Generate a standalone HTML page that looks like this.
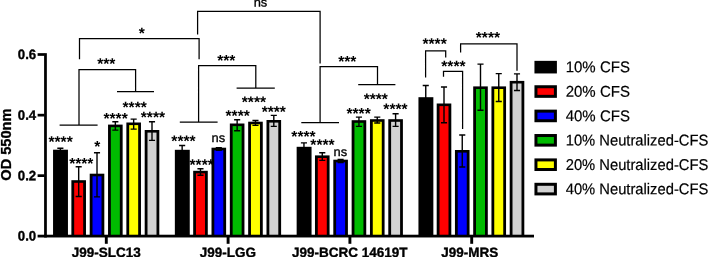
<!DOCTYPE html>
<html><head><meta charset="utf-8"><title>chart</title>
<style>html,body{margin:0;padding:0;background:#fff;}svg{display:block;will-change:transform;font-family:"Liberation Sans",sans-serif;}</style>
</head><body>
<svg width="708" height="257" viewBox="0 0 708 257">
<rect x="0" y="0" width="708" height="257" fill="#ffffff"/>
<text x="201.70" y="169.90" transform="rotate(0.03 201.7 169.9)" font-weight="bold" font-size="15.6" text-anchor="middle">****</text>
<g>
<rect x="53.05" y="149.70" width="14.90" height="86.40" fill="#000"/>
<rect x="71.38" y="180.20" width="14.60" height="55.90" fill="#000"/>
<rect x="74.18" y="182.80" width="9.00" height="53.30" fill="#ff0000"/>
<rect x="89.71" y="173.70" width="14.60" height="62.40" fill="#000"/>
<rect x="92.51" y="176.30" width="9.00" height="59.80" fill="#0000ff"/>
<rect x="108.04" y="124.60" width="14.60" height="111.50" fill="#000"/>
<rect x="110.84" y="127.20" width="9.00" height="108.90" fill="#00bb00"/>
<rect x="126.37" y="122.50" width="14.60" height="113.60" fill="#000"/>
<rect x="129.17" y="125.10" width="9.00" height="111.00" fill="#ffff00"/>
<rect x="144.70" y="130.00" width="14.60" height="106.10" fill="#000"/>
<rect x="147.50" y="132.60" width="9.00" height="103.50" fill="#d2d2d2"/>
<rect x="174.85" y="149.80" width="14.90" height="86.30" fill="#000"/>
<rect x="193.18" y="170.80" width="14.60" height="65.30" fill="#000"/>
<rect x="195.98" y="173.40" width="9.00" height="62.70" fill="#ff0000"/>
<rect x="211.51" y="147.70" width="14.60" height="88.40" fill="#000"/>
<rect x="214.31" y="150.30" width="9.00" height="85.80" fill="#0000ff"/>
<rect x="229.84" y="123.50" width="14.60" height="112.60" fill="#000"/>
<rect x="232.64" y="126.10" width="9.00" height="110.00" fill="#00bb00"/>
<rect x="248.17" y="121.70" width="14.60" height="114.40" fill="#000"/>
<rect x="250.97" y="124.30" width="9.00" height="111.80" fill="#ffff00"/>
<rect x="266.50" y="120.00" width="14.60" height="116.10" fill="#000"/>
<rect x="269.30" y="122.60" width="9.00" height="113.50" fill="#d2d2d2"/>
<rect x="296.65" y="146.80" width="14.90" height="89.30" fill="#000"/>
<rect x="314.98" y="155.40" width="14.60" height="80.70" fill="#000"/>
<rect x="317.78" y="158.00" width="9.00" height="78.10" fill="#ff0000"/>
<rect x="333.31" y="159.70" width="14.60" height="76.40" fill="#000"/>
<rect x="336.11" y="162.30" width="9.00" height="73.80" fill="#0000ff"/>
<rect x="351.64" y="120.20" width="14.60" height="115.90" fill="#000"/>
<rect x="354.44" y="122.80" width="9.00" height="113.30" fill="#00bb00"/>
<rect x="369.97" y="119.20" width="14.60" height="116.90" fill="#000"/>
<rect x="372.77" y="121.80" width="9.00" height="114.30" fill="#ffff00"/>
<rect x="388.30" y="119.20" width="14.60" height="116.90" fill="#000"/>
<rect x="391.10" y="121.80" width="9.00" height="114.30" fill="#d2d2d2"/>
<rect x="418.45" y="97.20" width="14.90" height="138.90" fill="#000"/>
<rect x="436.70" y="103.50" width="14.60" height="132.60" fill="#000"/>
<rect x="439.50" y="106.10" width="9.00" height="130.00" fill="#ff0000"/>
<rect x="454.95" y="150.00" width="14.60" height="86.10" fill="#000"/>
<rect x="457.75" y="152.60" width="9.00" height="83.50" fill="#0000ff"/>
<rect x="473.20" y="86.40" width="14.60" height="149.70" fill="#000"/>
<rect x="476.00" y="89.00" width="9.00" height="147.10" fill="#00bb00"/>
<rect x="491.45" y="86.40" width="14.60" height="149.70" fill="#000"/>
<rect x="494.25" y="89.00" width="9.00" height="147.10" fill="#ffff00"/>
<rect x="509.70" y="80.90" width="14.60" height="155.20" fill="#000"/>
<rect x="512.50" y="83.50" width="9.00" height="152.60" fill="#d2d2d2"/>
</g>
<g stroke="#000" stroke-width="1.4" fill="none">
<path d="M60.35 148.30V151.00 M57.30 148.30H63.40"/>
<path d="M78.68 166.70V196.50 M75.63 166.70H81.73 M75.63 196.50H81.73"/>
<path d="M97.01 152.70V196.90 M93.96 152.70H100.06 M93.96 196.90H100.06"/>
<path d="M115.34 121.70V130.10 M112.29 121.70H118.39 M112.29 130.10H118.39"/>
<path d="M133.67 119.10V129.10 M130.62 119.10H136.72 M130.62 129.10H136.72"/>
<path d="M152.00 121.70V140.40 M148.95 121.70H155.05 M148.95 140.40H155.05"/>
<path d="M182.15 145.50V151.10 M179.10 145.50H185.20"/>
<path d="M200.48 168.80V175.30 M197.43 168.80H203.53 M197.43 175.30H203.53"/>
<path d="M218.81 147.70V150.30 M215.76 147.70H221.86 M215.76 150.30H221.86"/>
<path d="M237.14 119.70V130.70 M234.09 119.70H240.19 M234.09 130.70H240.19"/>
<path d="M255.47 120.50V125.40 M252.42 120.50H258.52 M252.42 125.40H258.52"/>
<path d="M273.80 115.40V126.40 M270.75 115.40H276.85 M270.75 126.40H276.85"/>
<path d="M303.95 142.90V148.10 M300.90 142.90H307.00"/>
<path d="M322.28 152.80V160.40 M319.23 152.80H325.33 M319.23 160.40H325.33"/>
<path d="M340.61 159.50V162.50 M337.56 159.50H343.66 M337.56 162.50H343.66"/>
<path d="M358.94 117.10V126.40 M355.89 117.10H361.99 M355.89 126.40H361.99"/>
<path d="M377.27 117.10V123.00 M374.22 117.10H380.32 M374.22 123.00H380.32"/>
<path d="M395.60 113.70V126.40 M392.55 113.70H398.65 M392.55 126.40H398.65"/>
<path d="M425.75 85.50V98.50 M422.70 85.50H428.80"/>
<path d="M444.00 87.00V122.80 M440.95 87.00H447.05 M440.95 122.80H447.05"/>
<path d="M462.25 135.00V166.95 M459.20 135.00H465.30 M459.20 166.95H465.30"/>
<path d="M480.50 64.10V110.30 M477.45 64.10H483.55 M477.45 110.30H483.55"/>
<path d="M498.75 73.60V101.50 M495.70 73.60H501.80 M495.70 101.50H501.80"/>
<path d="M517.00 73.90V90.50 M513.95 73.90H520.05 M513.95 90.50H520.05"/>
</g>
<g fill="#000">
<rect x="44.1" y="53.15" width="2.75" height="184.35"/>
<rect x="37.6" y="234.72" width="496.40" height="2.75"/>
<rect x="37.6" y="53.15" width="7" height="2.7"/>
<rect x="37.6" y="113.80" width="7" height="2.7"/>
<rect x="37.6" y="174.30" width="7" height="2.7"/>
<rect x="104.85" y="237" width="2.9" height="6.8"/>
<rect x="226.65" y="237" width="2.9" height="6.8"/>
<rect x="348.45" y="237" width="2.9" height="6.8"/>
<rect x="470.25" y="237" width="2.9" height="6.8"/>
</g>
<g font-weight="bold" font-size="13.6" fill="#000" stroke="#000" stroke-width="0.35" text-anchor="end">
<text x="36.20" y="59.00" transform="rotate(0.03 36.20 59.00)" textLength="18.4" lengthAdjust="spacingAndGlyphs">0.6</text>
<text x="36.20" y="119.65" transform="rotate(0.03 36.20 119.65)" textLength="18.4" lengthAdjust="spacingAndGlyphs">0.4</text>
<text x="36.20" y="180.15" transform="rotate(0.03 36.20 180.15)" textLength="18.4" lengthAdjust="spacingAndGlyphs">0.2</text>
<text x="36.20" y="240.60" transform="rotate(0.03 36.20 240.60)" textLength="18.4" lengthAdjust="spacingAndGlyphs">0.0</text>
</g>
<g font-weight="bold" font-size="13.5" fill="#000" stroke="#000" stroke-width="0.35" text-anchor="middle">
<text x="106.15" y="257.00" transform="rotate(0.03 106.15 257.00)">J99-SLC13</text>
<text x="227.95" y="257.00" transform="rotate(0.03 227.95 257.00)">J99-LGG</text>
<text x="349.75" y="257.00" transform="rotate(0.03 349.75 257.00)">J99-BCRC 14619T</text>
<text x="469.75" y="257.00" transform="rotate(0.03 469.75 257.00)">J99-MRS</text>
</g>
<text transform="translate(10.9 144.6) rotate(-90)" font-weight="bold" font-size="14.6" text-anchor="middle" fill="#000" stroke="#000" stroke-width="0.3">OD 550nm</text>
<path d="M59.6 125H97.6 M79 125V69.6H135.6V91.5 M117 91.5H154 M179.8 122H217.6 M198.6 122V65.5H255.8V88 M236.6 88H274.8 M301.3 122.7H339 M320.1 122.7V66.5H377.5V84.7 M358.2 84.7H395.4 M79.5 59.3V38.6H199.1V59.3 M197.6 34.6V11.45H320.1V63.4 M425.6 77.6V50.9H445.7V57.5 M443.5 76.8V71.25H462.6V129 M460.6 52.4V43.9H517V70.7" stroke="#000" stroke-width="1.25" fill="none" stroke-linejoin="miter"/>
<g font-weight="bold" font-size="15.6" fill="#000" text-anchor="middle">
<text x="60.60" y="146.95" transform="rotate(0.03 60.60 146.95)">****</text>
<text x="81.30" y="168.85" transform="rotate(0.03 81.30 168.85)">****</text>
<text x="97.40" y="151.85" transform="rotate(0.03 97.40 151.85)">*</text>
<text x="115.60" y="123.75" transform="rotate(0.03 115.60 123.75)">****</text>
<text x="134.65" y="112.55" transform="rotate(0.03 134.65 112.55)">****</text>
<text x="152.90" y="122.45" transform="rotate(0.03 152.90 122.45)">****</text>
<text x="183.50" y="146.35" transform="rotate(0.03 183.50 146.35)">****</text>
<text x="237.70" y="120.90" transform="rotate(0.03 237.70 120.90)">****</text>
<text x="253.90" y="107.20" transform="rotate(0.03 253.90 107.20)">****</text>
<text x="273.80" y="117.05" transform="rotate(0.03 273.80 117.05)">****</text>
<text x="303.50" y="141.75" transform="rotate(0.03 303.50 141.75)">****</text>
<text x="322.50" y="150.00" transform="rotate(0.03 322.50 150.00)">****</text>
<text x="358.60" y="118.85" transform="rotate(0.03 358.60 118.85)">****</text>
<text x="375.80" y="104.25" transform="rotate(0.03 375.80 104.25)">****</text>
<text x="395.50" y="114.35" transform="rotate(0.03 395.50 114.35)">****</text>
<text x="106.30" y="68.95" transform="rotate(0.03 106.30 68.95)">***</text>
<text x="226.30" y="65.70" transform="rotate(0.03 226.30 65.70)">***</text>
<text x="347.25" y="66.65" transform="rotate(0.03 347.25 66.65)">***</text>
<text x="141.80" y="38.55" transform="rotate(0.03 141.80 38.55)">*</text>
<text x="434.60" y="49.05" transform="rotate(0.03 434.60 49.05)">****</text>
<text x="453.40" y="71.55" transform="rotate(0.03 453.40 71.55)">****</text>
<text x="487.90" y="42.75" transform="rotate(0.03 487.90 42.75)">****</text>
</g>
<g font-size="12.4" fill="#000" stroke="#000" stroke-width="0.3" text-anchor="middle">
<text x="218.40" y="142.05" transform="rotate(0.03 218.40 142.05)" textLength="13.6" lengthAdjust="spacingAndGlyphs">ns</text>
<text x="340.30" y="155.95" transform="rotate(0.03 340.30 155.95)" textLength="13.6" lengthAdjust="spacingAndGlyphs">ns</text>
<text x="260.50" y="6.45" transform="rotate(0.03 260.50 6.45)" textLength="13.6" lengthAdjust="spacingAndGlyphs">ns</text>
</g>
<g font-size="15.6" fill="#000" stroke-width="0.2">
<rect x="535.95" y="62.35" width="19.45" height="9.60" fill="#000000" stroke="#000" stroke-width="3"/>
<text x="565.70" y="72.35" transform="rotate(0.03 565.70 72.35)" stroke="#000" textLength="64.2" lengthAdjust="spacingAndGlyphs">10% CFS</text>
<rect x="535.95" y="86.74" width="19.45" height="9.60" fill="#ff0000" stroke="#000" stroke-width="3"/>
<text x="565.70" y="96.74" transform="rotate(0.03 565.70 96.74)" stroke="#000" textLength="64.2" lengthAdjust="spacingAndGlyphs">20% CFS</text>
<rect x="535.95" y="111.13" width="19.45" height="9.60" fill="#0000ff" stroke="#000" stroke-width="3"/>
<text x="565.70" y="121.13" transform="rotate(0.03 565.70 121.13)" stroke="#000" textLength="64.2" lengthAdjust="spacingAndGlyphs">40% CFS</text>
<rect x="535.95" y="135.52" width="19.45" height="9.60" fill="#00bb00" stroke="#000" stroke-width="3"/>
<text x="565.70" y="145.52" transform="rotate(0.03 565.70 145.52)" stroke="#000" textLength="142.6" lengthAdjust="spacingAndGlyphs">10% Neutralized-CFS</text>
<rect x="535.95" y="159.91" width="19.45" height="9.60" fill="#ffff00" stroke="#000" stroke-width="3"/>
<text x="565.70" y="169.91" transform="rotate(0.03 565.70 169.91)" stroke="#000" textLength="142.6" lengthAdjust="spacingAndGlyphs">20% Neutralized-CFS</text>
<rect x="535.95" y="184.30" width="19.45" height="9.60" fill="#d2d2d2" stroke="#000" stroke-width="3"/>
<text x="565.70" y="194.30" transform="rotate(0.03 565.70 194.30)" stroke="#000" textLength="142.6" lengthAdjust="spacingAndGlyphs">40% Neutralized-CFS</text>
</g>
</svg>
</body></html>
